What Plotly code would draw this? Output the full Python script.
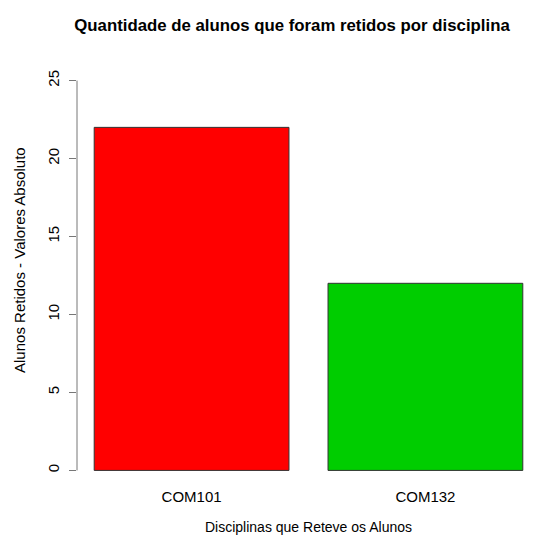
import plotly.graph_objects as go

# Data
disciplinas = ["COM101", "COM132"]
retidos = [22, 12]
cores = ["#FF0000", "#00CD00"]
y_ticks = [0, 5, 10, 15, 20, 25]

FONT = "Liberation Sans, Arial, sans-serif"
AXIS_COLOR = "#777777"

# page body has an 8px margin, so the figure is a bit smaller than the window
W, H = 532, 527

fig = go.Figure()

fig.add_trace(
    go.Bar(
        x=disciplinas,
        y=retidos,
        width=0.833,
        marker=dict(color=cores, line=dict(color="#333333", width=1)),
        showlegend=False,
    )
)

# R-style y axis line that only covers the tick range
fig.add_shape(
    type="line",
    xref="paper",
    yref="y",
    x0=0,
    x1=0,
    y0=y_ticks[0],
    y1=y_ticks[-1],
    line=dict(color=AXIS_COLOR, width=1),
)

# y label, placed like R's ylab
fig.add_annotation(
    text="Alunos Retidos - Valores Absoluto",
    xref="paper",
    yref="paper",
    x=-0.123,
    y=0.537,
    xanchor="center",
    yanchor="middle",
    textangle=-90,
    showarrow=False,
    font=dict(family=FONT, size=15, color="#000000"),
)

fig.update_layout(
    width=W,
    height=H,
    margin=dict(l=69, r=0, t=57, b=49),
    paper_bgcolor="white",
    plot_bgcolor="white",
    font=dict(family=FONT, size=15, color="#000000"),
    title=dict(
        text="<b>Quantidade de alunos que foram retidos por disciplina</b>",
        x=284 / W,
        xanchor="center",
        xref="container",
        y=1 - 17 / H,
        yanchor="middle",
        yref="container",
        font=dict(family=FONT, size=16.8, color="#000000"),
    ),
    xaxis=dict(
        range=[-0.49, 1.49],
        automargin=False,
        showline=False,
        showgrid=False,
        zeroline=False,
        ticks="",
        tickfont=dict(size=15),
        title=dict(text="Disciplinas que Reteve os Alunos", standoff=23, font=dict(size=14)),
    ),
    yaxis=dict(
        range=[-1, 26],
        automargin=False,
        tickvals=y_ticks,
        tickangle=-90,
        showline=False,
        showgrid=False,
        zeroline=False,
        ticks="outside",
        ticklen=7,
        tickcolor=AXIS_COLOR,
        ticklabelstandoff=4,
        tickfont=dict(size=15),
    ),
)

fig.write_html("out.html")
